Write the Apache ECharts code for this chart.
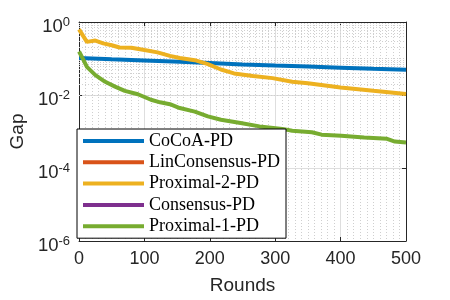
<!DOCTYPE html>
<html>
<head>
<meta charset="utf-8">
<script src="https://cdn.jsdelivr.net/npm/echarts@6/dist/echarts.min.js"></script>
<style>html,body{margin:0;padding:0;background:#fff}#c{width:450px;height:300px}</style>
</head>
<body>
<div id="c"></div>
<script>
// ---- data ----
const seriesNames = ['CoCoA-PD', 'LinConsensus-PD', 'Proximal-2-PD', 'Consensus-PD', 'Proximal-1-PD'];
const seriesColors = ['#0072BD', '#D95319', '#EDB120', '#7E2F8E', '#77AC30'];

const cocoaRounds = [0, 50, 100, 154, 200, 250, 300, 350, 400, 450, 500];
const cocoaGap    = [0.103, 0.095, 0.088, 0.081, 0.075, 0.069, 0.064, 0.06, 0.056, 0.052, 0.049];

const linConsRounds = [];
const linConsGap    = [];

const prox2Rounds = [0, 12, 25, 37, 50, 62, 80, 100, 120, 139, 154, 177, 197, 217, 237, 266, 296, 326, 350, 400, 450, 500];
const prox2Gap    = [0.63, 0.285, 0.31, 0.26, 0.23, 0.2, 0.198, 0.17, 0.147, 0.118, 0.103, 0.09, 0.07, 0.05, 0.039, 0.033, 0.029, 0.023, 0.021, 0.016, 0.013, 0.0106];

const consRounds = [];
const consGap    = [];

const prox1Rounds = [0, 5, 12, 25, 40, 55, 70, 90, 110, 124, 139, 154, 177, 197, 217, 247, 276, 311, 326, 356, 371, 401, 436, 471, 483, 500];
const prox1Gap    = [0.155, 0.105, 0.059, 0.035, 0.023, 0.017, 0.013, 0.0105, 0.0074, 0.0063, 0.0056, 0.0044, 0.0035, 0.0026, 0.0021, 0.0017, 0.00138, 0.00118, 0.00105, 0.00095, 0.00082, 0.00077, 0.00069, 0.00063, 0.00053, 0.0005];

const xTicks = [0, 100, 200, 300, 400, 500];
const yTickExponents = [0, -2, -4, -6];
// minor log grid values (MATLAB-style)
const yMinorGrid = [];
for (let e = -6; e < 0; e++) {
  for (let k = 1; k <= 9; k++) {
    if (k === 1 && e % 2 === 0) continue;
    yMinorGrid.push(k * Math.pow(10, e));
  }
}

const pairs = (xs, ys) => xs.map((x, i) => [x, ys[i]]);
const seriesData = [
  pairs(cocoaRounds, cocoaGap),
  pairs(linConsRounds, linConsGap),
  pairs(prox2Rounds, prox2Gap),
  pairs(consRounds, consGap),
  pairs(prox1Rounds, prox1Gap)
];

const chart = echarts.init(document.getElementById('c'), null, {renderer: 'canvas'});
const axisCol = '#262626';
const sans = 'Liberation Sans, Arial, Helvetica, sans-serif';
const serif = 'Liberation Serif, Times New Roman, serif';

function expLabel(v) {
  const e = Math.round(Math.log10(v));
  return '{b|10}{s|' + e + '}';
}

const option = {
  animation: false,
  backgroundColor: '#fff',
  grid: {left: 72, right: 44, top: 22, bottom: 58, containLabel: false},
  legend: {
    data: seriesNames,
    orient: 'vertical',
    left: 77, top: 129,
    padding: [3, 6, 3, 6],
    itemGap: 3.3,
    itemWidth: 61, itemHeight: 4,
    icon: 'rect',
    backgroundColor: '#fff',
    borderColor: '#000', borderWidth: 1,
    textStyle: {fontFamily: serif, fontSize: 18, color: '#000', lineHeight: 18},
    z: 10
  },
  xAxis: [{
    type: 'value', min: 0, max: 500, interval: 100,
    name: 'Rounds', nameLocation: 'middle', nameGap: 35,
    nameTextStyle: {fontFamily: sans, fontSize: 19, color: axisCol},
    axisLine: {show: true, onZero: false, lineStyle: {color: axisCol, width: 1}},
    axisTick: {show: true, inside: true, length: 4, lineStyle: {color: axisCol}},
    axisLabel: {fontFamily: sans, fontSize: 18, color: axisCol, margin: 9},
    splitLine: {show: true, lineStyle: {color: '#dedede', width: 1}},
    minorTick: {show: false, splitNumber: 10},
    minorSplitLine: {show: true, lineStyle: {color: '#cfcfcf', type: [1, 2], width: 1}}
  }, {
    type: 'value', min: 0, max: 500, interval: 100, position: 'top',
    axisLine: {show: true, onZero: false, lineStyle: {color: axisCol, width: 1}},
    axisTick: {show: true, inside: true, length: 4, lineStyle: {color: axisCol}},
    axisLabel: {show: false}, splitLine: {show: false}
  }],
  yAxis: [{
    type: 'log', logBase: 10, min: 1e-6, max: 1, interval: 2,
    name: 'Gap', nameLocation: 'middle', nameGap: 46, nameRotate: 90,
    nameTextStyle: {fontFamily: sans, fontSize: 19, color: axisCol},
    axisLine: {show: true, onZero: false, lineStyle: {color: axisCol, width: 1}},
    axisTick: {show: true, inside: true, length: 4, lineStyle: {color: axisCol}},
    axisLabel: {
      margin: 9, formatter: expLabel, padding: [10, 0, 0, 0],
      rich: {
        b: {fontFamily: sans, fontSize: 18.5, color: axisCol},
        s: {fontFamily: sans, fontSize: 13, color: axisCol, padding: [0, 0, 9, 0]}
      }
    },
    splitLine: {show: true, lineStyle: {color: '#dedede', width: 1}}
  }, {
    type: 'log', logBase: 10, min: 1e-6, max: 1, interval: 2, position: 'right',
    axisLine: {show: true, onZero: false, lineStyle: {color: axisCol, width: 1}},
    axisTick: {show: true, inside: true, length: 4, lineStyle: {color: axisCol}},
    axisLabel: {show: false}, splitLine: {show: false}
  }],
  series: [{
    name: '__grid', type: 'line', data: [], z: 1, silent: true,
    markLine: {
      z: 1, zlevel: 0,
      silent: true, symbol: ['none', 'none'], animation: false,
      label: {show: false},
      lineStyle: {color: '#cfcfcf', type: [1, 2], width: 1},
      emphasis: {disabled: true},
      data: yMinorGrid.map(v => ({yAxis: v}))
    }
  }].concat(seriesNames.map((n, i) => ({
    name: n, type: 'line', data: seriesData[i],
    showSymbol: false, symbol: 'none', z: 3,
    lineStyle: {color: seriesColors[i], width: 4},
    itemStyle: {color: seriesColors[i]},
    emphasis: {disabled: true}
  })))
};
chart.setOption(option);
</script>
</body>
</html>
